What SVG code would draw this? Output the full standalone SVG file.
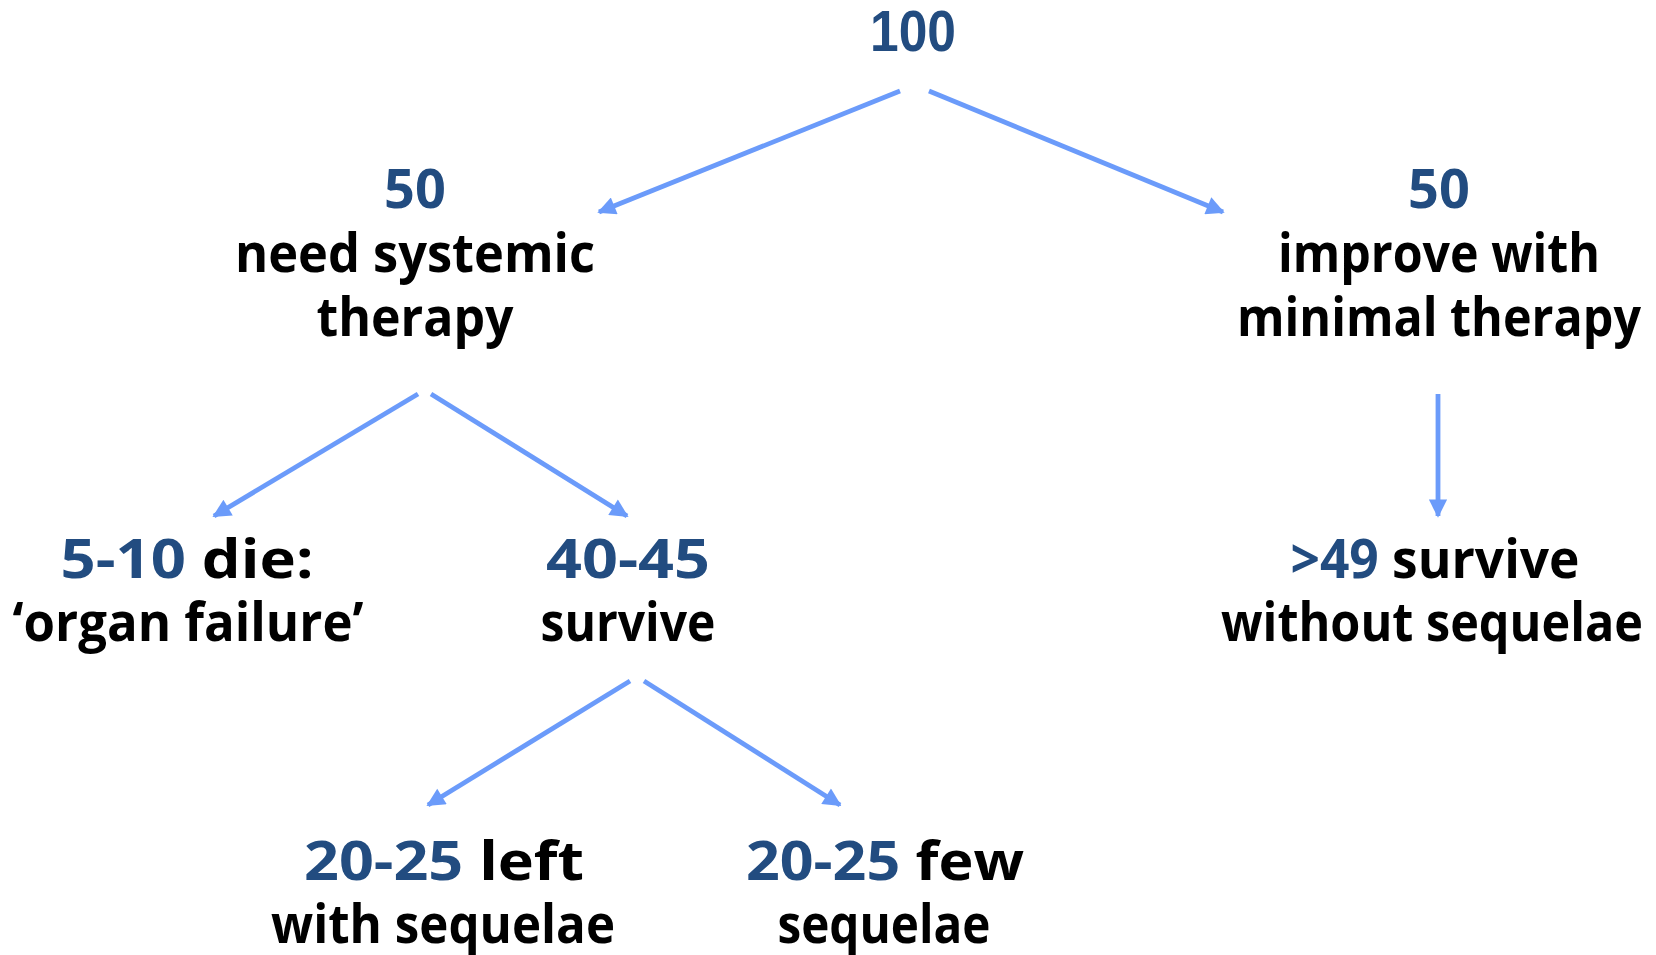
<svg xmlns="http://www.w3.org/2000/svg" width="1656" height="955" viewBox="0 0 1656 955">
<style>
.t{font-family:"Comic Sans MS","Open Sans","DejaVu Sans",sans-serif;font-weight:700;font-size:54px;fill:#000;text-anchor:middle}
.n{fill:#224C80}
.a{fill:none;stroke:#6B9BFA;stroke-width:4.8;marker-end:url(#ah)}
</style>
<defs>
<marker id="ah" viewBox="0 0 10 10" refX="9" refY="5" markerWidth="4.4" markerHeight="3.8" orient="auto" markerUnits="strokeWidth">
<path d="M0,0 L10,5 L0,10 z" fill="#6B9BFA"/>
</marker>
</defs>
<rect width="1656" height="955" fill="#fff"/>
<g id="connectors">
<line class="a" x1="900" y1="91" x2="599" y2="212"/>
<line class="a" x1="929" y1="91" x2="1223" y2="212"/>
<line class="a" x1="418" y1="394" x2="214" y2="516"/>
<line class="a" x1="431" y1="394" x2="627" y2="516"/>
<line class="a" x1="1438" y1="394" x2="1438" y2="516"/>
<line class="a" x1="630" y1="681" x2="428" y2="805"/>
<line class="a" x1="644" y1="681" x2="840" y2="805"/>
</g>
<g id="n100">
<text x="913" y="51" style="font-family:'Liberation Sans',Arial,sans-serif;font-weight:700;font-size:58px;text-anchor:middle" fill="#224C80" textLength="86" lengthAdjust="spacingAndGlyphs">100</text>
</g>
<g id="n50a">
<text class="t n" x="415" y="208">50</text>
<text class="t" x="415" y="272" textLength="360" lengthAdjust="spacingAndGlyphs">need systemic</text>
<text class="t" x="415" y="336" textLength="197" lengthAdjust="spacingAndGlyphs">therapy</text>
</g>
<g id="n50b">
<text class="t n" x="1439" y="208">50</text>
<text class="t" x="1439" y="272" textLength="322" lengthAdjust="spacingAndGlyphs">improve with</text>
<text class="t" x="1439" y="336" textLength="404" lengthAdjust="spacingAndGlyphs">minimal therapy</text>
</g>
<g id="ndie">
<text class="t" x="187" y="578" textLength="253" lengthAdjust="spacingAndGlyphs"><tspan class="n">5-10</tspan> die:</text>
<text class="t" x="188" y="641" textLength="351" lengthAdjust="spacingAndGlyphs">‘organ failure’</text>
</g>
<g id="nsurvive">
<text class="t n" x="628" y="578" textLength="164" lengthAdjust="spacingAndGlyphs">40-45</text>
<text class="t" x="628" y="641" textLength="175" lengthAdjust="spacingAndGlyphs">survive</text>
</g>
<g id="n49">
<text class="t" x="1435" y="578" textLength="289" lengthAdjust="spacingAndGlyphs"><tspan class="n">&gt;49</tspan> survive</text>
<text class="t" x="1432" y="641" textLength="422" lengthAdjust="spacingAndGlyphs">without sequelae</text>
</g>
<g id="nleft">
<text class="t" x="444" y="880" textLength="280" lengthAdjust="spacingAndGlyphs"><tspan class="n">20-25</tspan> left</text>
<text class="t" x="443" y="943" textLength="344" lengthAdjust="spacingAndGlyphs">with sequelae</text>
</g>
<g id="nfew">
<text class="t" x="885" y="880" textLength="278" lengthAdjust="spacingAndGlyphs"><tspan class="n">20-25</tspan> few</text>
<text class="t" x="884" y="943" textLength="213" lengthAdjust="spacingAndGlyphs">sequelae</text>
</g>
</svg>
